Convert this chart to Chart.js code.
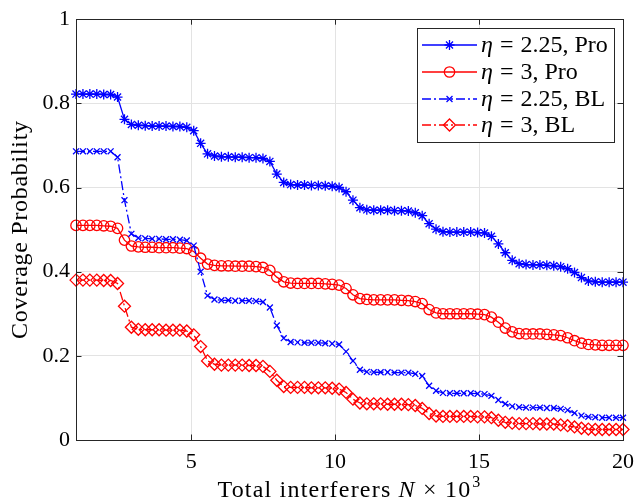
<!DOCTYPE html>
<html>
<head>
<meta charset="utf-8">
<script src="https://cdn.jsdelivr.net/npm/chart.js@4.4.1/dist/chart.umd.min.js"></script>
<style>
  html, body { margin: 0; padding: 0; background: #fff; }
  #wrap { width: 643px; height: 504px; }
</style>
</head>
<body>
<div id="wrap"><canvas id="c" width="643" height="504"></canvas></div>
<script>
// ---------------- data ----------------
const xValues = [1.000,1.241,1.481,1.722,1.962,2.203,2.443,2.684,2.924,3.165,
  3.405,3.646,3.886,4.127,4.367,4.608,4.848,5.089,5.329,5.570,
  5.810,6.051,6.291,6.532,6.772,7.013,7.253,7.494,7.734,7.975,
  8.215,8.456,8.696,8.937,9.177,9.418,9.658,9.899,10.139,10.380,
  10.620,10.861,11.101,11.342,11.582,11.823,12.063,12.304,12.544,12.785,
  13.025,13.266,13.506,13.747,13.987,14.228,14.468,14.709,14.949,15.190,
  15.430,15.671,15.911,16.152,16.392,16.633,16.873,17.114,17.354,17.595,
  17.835,18.076,18.316,18.557,18.797,19.038,19.278,19.519,19.759,20.000];

const proEta225 = [0.822,0.822,0.822,0.822,0.821,0.821,0.815,0.762,0.750,0.748,
  0.747,0.746,0.746,0.746,0.745,0.745,0.743,0.735,0.705,0.680,
  0.675,0.673,0.673,0.672,0.672,0.671,0.671,0.669,0.662,0.632,
  0.612,0.607,0.606,0.606,0.605,0.605,0.604,0.603,0.600,0.590,
  0.570,0.552,0.547,0.546,0.546,0.546,0.545,0.545,0.544,0.540,
  0.533,0.514,0.501,0.495,0.494,0.494,0.494,0.494,0.493,0.492,
  0.484,0.466,0.445,0.427,0.419,0.417,0.416,0.416,0.415,0.414,
  0.412,0.407,0.398,0.386,0.378,0.376,0.375,0.375,0.375,0.375];

const proEta3 = [0.510,0.510,0.510,0.510,0.509,0.508,0.503,0.475,0.461,0.459,
  0.458,0.458,0.457,0.457,0.457,0.456,0.455,0.448,0.432,0.418,
  0.415,0.414,0.414,0.413,0.413,0.413,0.412,0.410,0.403,0.387,
  0.376,0.373,0.372,0.372,0.372,0.372,0.371,0.370,0.368,0.360,
  0.345,0.336,0.334,0.333,0.333,0.333,0.333,0.332,0.331,0.329,
  0.324,0.310,0.302,0.300,0.300,0.300,0.300,0.300,0.299,0.298,
  0.292,0.280,0.266,0.257,0.253,0.252,0.252,0.252,0.251,0.250,
  0.248,0.243,0.236,0.230,0.227,0.226,0.225,0.225,0.225,0.225];

const blEta225 = [0.686,0.686,0.686,0.686,0.686,0.686,0.672,0.570,0.490,0.480,
  0.479,0.478,0.478,0.477,0.477,0.476,0.474,0.462,0.400,0.343,
  0.334,0.332,0.332,0.331,0.331,0.331,0.330,0.328,0.315,0.272,
  0.242,0.233,0.232,0.231,0.231,0.231,0.230,0.229,0.227,0.210,
  0.188,0.167,0.162,0.161,0.161,0.161,0.160,0.160,0.160,0.157,
  0.152,0.129,0.117,0.112,0.111,0.111,0.111,0.111,0.110,0.109,
  0.105,0.095,0.086,0.080,0.078,0.077,0.077,0.077,0.076,0.076,
  0.074,0.071,0.064,0.058,0.055,0.054,0.053,0.053,0.053,0.053];

const blEta3 = [0.380,0.380,0.380,0.380,0.379,0.379,0.372,0.318,0.268,0.263,
  0.262,0.262,0.262,0.261,0.261,0.261,0.259,0.250,0.222,0.188,
  0.180,0.178,0.178,0.178,0.178,0.177,0.177,0.175,0.163,0.142,
  0.127,0.125,0.125,0.125,0.124,0.124,0.124,0.123,0.121,0.113,
  0.097,0.088,0.086,0.086,0.086,0.085,0.085,0.085,0.084,0.082,
  0.075,0.063,0.057,0.056,0.056,0.056,0.056,0.056,0.055,0.055,
  0.053,0.047,0.042,0.040,0.039,0.039,0.039,0.038,0.038,0.038,
  0.036,0.034,0.031,0.028,0.026,0.025,0.025,0.025,0.025,0.025];

const seriesEta = ['2.25', '3', '2.25', '3'];
const seriesKind = ['Pro', 'Pro', 'BL', 'BL'];
const xTickValues = [5, 10, 15, 20];
const yTickValues = [0, 0.2, 0.4, 0.6, 0.8, 1];
const yTickLabels = ['0', '0.2', '0.4', '0.6', '0.8', '1'];
const xTitleParts = ['Total interferers ', 'N', ' \u00d7 10', '3'];
const yTitle = 'Coverage Probability';

// ---------------- styles ----------------
const BLUE = '#0000ff', RED = '#ff0000', AX = '#262626', GRID = '#e3e3e3';
const SERIF = '"Liberation Serif", "Times New Roman", serif';
const DASHDOT = [9, 3, 2, 3];

function pts(ys) { return ys.map((y, i) => ({ x: xValues[i], y: y })); }

const styles = [
  { color: BLUE, pointStyle: 'star', radius: 5, dash: [] },
  { color: RED, pointStyle: 'circle', radius: 5.2, dash: [] },
  { color: BLUE, pointStyle: 'crossRot', radius: 4.2, dash: DASHDOT },
  { color: RED, pointStyle: 'rectRot', radius: 6, dash: DASHDOT }
];
const seriesData = [proEta225, proEta3, blEta225, blEta3];

const datasets = seriesData.map((ys, k) => ({
  label: '\u03b7 = ' + seriesEta[k] + ', ' + seriesKind[k],
  data: pts(ys),
  borderColor: styles[k].color,
  backgroundColor: 'rgba(0,0,0,0)',
  borderWidth: 1.3,
  borderDash: styles[k].dash,
  pointStyle: styles[k].pointStyle,
  pointRadius: styles[k].radius,
  pointBorderWidth: 1.3,
  pointBorderColor: styles[k].color,
  pointBackgroundColor: 'rgba(0,0,0,0)',
  tension: 0,
  clip: false,
  order: 4 - k
}));

// draw a marker shape (for legend)
function drawMarker(ctx, style, r, x, y, color) {
  ctx.save();
  ctx.strokeStyle = color;
  ctx.lineWidth = 1.3;
  ctx.setLineDash([]);
  ctx.beginPath();
  if (style === 'circle') {
    ctx.arc(x, y, r, 0, Math.PI * 2);
  } else if (style === 'rectRot') {
    ctx.moveTo(x, y - r); ctx.lineTo(x + r, y); ctx.lineTo(x, y + r); ctx.lineTo(x - r, y); ctx.closePath();
  } else if (style === 'crossRot') {
    const d = r * Math.SQRT1_2;
    ctx.moveTo(x - d, y - d); ctx.lineTo(x + d, y + d);
    ctx.moveTo(x + d, y - d); ctx.lineTo(x - d, y + d);
  } else if (style === 'star') {
    const d = r * Math.SQRT1_2;
    ctx.moveTo(x, y - r); ctx.lineTo(x, y + r);
    ctx.moveTo(x - r, y); ctx.lineTo(x + r, y);
    ctx.moveTo(x - d, y - d); ctx.lineTo(x + d, y + d);
    ctx.moveTo(x + d, y - d); ctx.lineTo(x - d, y + d);
  }
  ctx.stroke();
  ctx.restore();
}

const framePlugin = {
  id: 'frame',
  afterDraw(chart) {
    const ctx = chart.ctx, a = chart.chartArea;
    const xs = chart.scales.x, ys = chart.scales.y;
    ctx.save();
    // box
    ctx.strokeStyle = AX; ctx.lineWidth = 1; ctx.setLineDash([]);
    ctx.strokeRect(Math.round(a.left) + 0.5, Math.round(a.top) + 0.5,
                   Math.round(a.right - a.left), Math.round(a.bottom - a.top));
    // inward ticks
    const tl = 5.5;
    ctx.beginPath();
    xTickValues.forEach(v => {
      const px = Math.round(xs.getPixelForValue(v)) + 0.5;
      ctx.moveTo(px, a.bottom); ctx.lineTo(px, a.bottom - tl);
      ctx.moveTo(px, a.top); ctx.lineTo(px, a.top + tl);
    });
    yTickValues.forEach(v => {
      const py = Math.round(ys.getPixelForValue(v)) + 0.5;
      ctx.moveTo(a.left, py); ctx.lineTo(a.left + tl, py);
      ctx.moveTo(a.right, py); ctx.lineTo(a.right - tl, py);
    });
    ctx.stroke();

    // x-axis title with italic N and superscript
    const fs = 24;
    try { ctx.letterSpacing = '1.2px'; } catch (e) {}
    const fonts = [fs + 'px ' + SERIF, 'italic ' + fs + 'px ' + SERIF, fs + 'px ' + SERIF, '16px ' + SERIF];
    let widths = xTitleParts.map((t, i) => { ctx.font = fonts[i]; return ctx.measureText(t).width; });
    const total = widths.reduce((s, w) => s + w, 0) + 1;
    let cx = (a.left + a.right) / 2 - total / 2;
    const baseY = 497;
    ctx.fillStyle = '#000';
    ctx.textBaseline = 'alphabetic';
    ctx.textAlign = 'left';
    xTitleParts.forEach((t, i) => {
      ctx.font = fonts[i];
      ctx.fillText(t, cx + (i === 3 ? 1 : 0), i === 3 ? baseY - 10 : baseY);
      cx += widths[i];
    });

    // y-axis title
    ctx.save();
    try { ctx.letterSpacing = '0.7px'; } catch (e) {}
    ctx.translate(27, (a.top + a.bottom) / 2);
    ctx.rotate(-Math.PI / 2);
    ctx.font = '24px ' + SERIF;
    ctx.textAlign = 'center';
    ctx.textBaseline = 'alphabetic';
    ctx.fillText(yTitle, 0, 0);
    ctx.restore();
    try { ctx.letterSpacing = '0px'; } catch (e) {}

    // legend
    const lx = 417, ly = 28, lw = 197, lh = 114;
    ctx.fillStyle = '#fff';
    ctx.fillRect(lx, ly, lw, lh);
    ctx.strokeStyle = AX; ctx.lineWidth = 1;
    ctx.strokeRect(lx + 0.5, ly + 0.5, lw, lh);
    const rowY = [45, 72, 99, 125];
    const lfs = 24;
    datasets.forEach((ds, k) => {
      const y = rowY[k];
      ctx.save();
      ctx.strokeStyle = ds.borderColor; ctx.lineWidth = 1.3;
      ctx.setLineDash(ds.borderDash);
      ctx.beginPath(); ctx.moveTo(422, y); ctx.lineTo(477, y); ctx.stroke();
      ctx.restore();
      drawMarker(ctx, styles[k].pointStyle, styles[k].radius, 449.5, y, ds.borderColor);
      let tx = 481;
      ctx.fillStyle = '#000';
      ctx.textBaseline = 'middle';
      ctx.textAlign = 'left';
      ctx.font = 'italic ' + lfs + 'px ' + SERIF;
      ctx.fillText('\u03b7', tx, y + 1);
      tx += ctx.measureText('\u03b7').width + 7;
      ctx.font = lfs + 'px ' + SERIF;
      ctx.fillText('=', tx, y + 1);
      tx += ctx.measureText('=').width + 7;
      ctx.fillText(seriesEta[k] + ', ' + seriesKind[k], tx, y + 1);
    });
    ctx.restore();
  }
};

new Chart(document.getElementById('c'), {
  type: 'line',
  data: { datasets: datasets },
  options: {
    responsive: false,
    animation: false,
    devicePixelRatio: 1,
    layout: { padding: { left: 0, top: 15, right: 11, bottom: 0 } },
    plugins: { legend: { display: false }, tooltip: { enabled: false } },
    scales: {
      x: {
        type: 'linear', min: 1, max: 20,
        afterBuildTicks(scale) { scale.ticks = xTickValues.map(v => ({ value: v })); },
        afterFit(scale) { scale.height = 64; },
        grid: { color: GRID, drawTicks: false },
        border: { color: AX, width: 1 },
        ticks: { color: '#000', padding: 9, font: { family: SERIF, size: 22 }, maxRotation: 0,
                 callback: (v) => String(v) }
      },
      y: {
        type: 'linear', min: 0, max: 1,
        afterBuildTicks(scale) { scale.ticks = yTickValues.map(v => ({ value: v })); },
        afterFit(scale) { scale.width = 76; },
        grid: { color: GRID, drawTicks: false },
        border: { color: AX, width: 1 },
        ticks: { color: '#000', padding: 6, font: { family: SERIF, size: 22 },
                 callback: (v) => { const i = yTickValues.indexOf(v); return i >= 0 ? yTickLabels[i] : ''; } },
        title: { display: false, text: yTitle }
      }
    }
  },
  plugins: [framePlugin]
});
</script>
</body>
</html>
